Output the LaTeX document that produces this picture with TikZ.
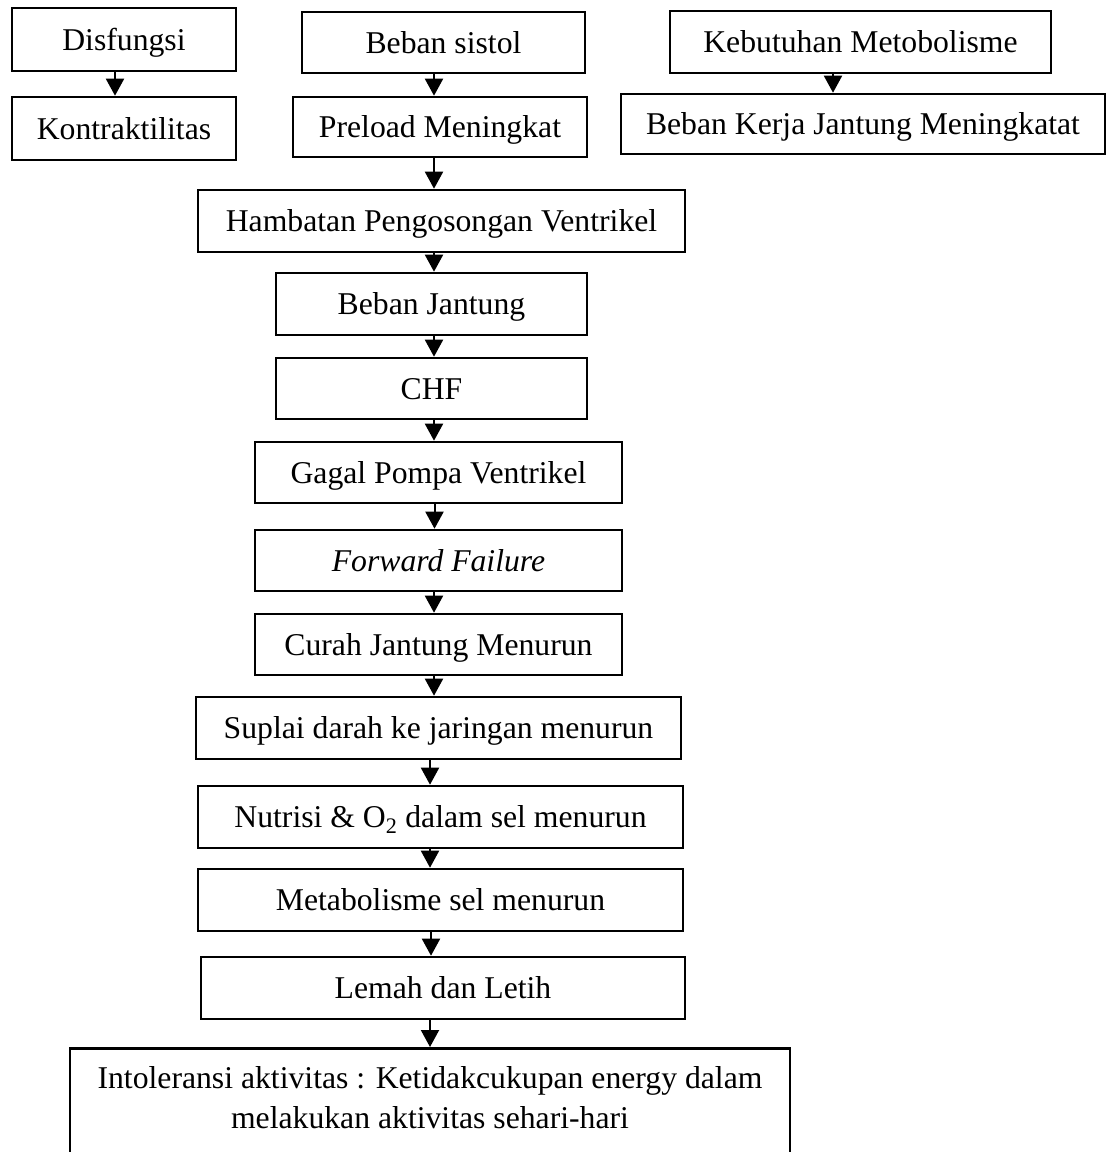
\documentclass[tikz,border=0pt]{standalone}
\usepackage{fontspec}
\setmainfont{Liberation Serif}
\usetikzlibrary{arrows.meta}
\newcommand\flowarrow[3]{%
  \coordinate (#1-out) at ([xshift=#3pt]#1.south);
  \draw[arr] (#1-out) -- (#1-out |- #2.north);}
\begin{document}
\begin{tikzpicture}[x=1pt,y=-1pt,
  box/.style={draw, line width=2.6pt, inner sep=0pt, text height=21pt, text depth=0pt,
    font=\fontsize{31.7}{40}\selectfont},
  frame/.style={draw, line width=2.6pt, inner sep=0pt},
  txt/.style={inner sep=0pt, align=center, font=\fontsize{31.7}{40}\selectfont},
  arr/.style={line width=2pt, -{Triangle[width=18pt,length=17pt]}}]
\useasboundingbox (0,0) rectangle (1106,1152);
\clip (0,0) rectangle (1106,1152);

% top row
\node[box, minimum width=224, minimum height=63] (dis) at (124,39.5) {Disfungsi};
\node[box, minimum width=224, minimum height=63] (kon) at (124,128.5) {Kontraktilitas};
\node[box, minimum width=283, minimum height=61] (bs) at (443.5,42.5) {Beban sistol};
\node[box, minimum width=294, minimum height=60] (pre) at (440,127) {Preload Meningkat};
\node[box, minimum width=381, minimum height=62] (keb) at (860.5,42) {Kebutuhan Metobolisme};
\node[box, minimum width=484, minimum height=60] (bkj) at (863,124) {Beban Kerja Jantung Meningkatat};

% main column
\node[box, minimum width=487, minimum height=62] (ham) at (441.5,221) {Hambatan Pengosongan Ventrikel};
\node[box, minimum width=311, minimum height=62] (bj) at (431.5,304) {Beban Jantung};
\node[box, minimum width=311, minimum height=61] (chf) at (431.5,388.5) {CHF};
\node[box, minimum width=367, minimum height=61] (gpv) at (438.5,472.5) {Gagal Pompa Ventrikel};
\node[box, minimum width=367, minimum height=61] (ff) at (438.5,560.5) {\itshape Forward Failure};
\node[box, minimum width=367, minimum height=61] (cjm) at (438.5,644.5) {Curah Jantung Menurun};
\node[box, minimum width=485, minimum height=62] (sup) at (438.5,728) {Suplai darah ke jaringan menurun};
\node[box, minimum width=485, minimum height=62] (nut) at (440.5,817) {Nutrisi \& O\textsubscript{2} dalam sel menurun};
\node[box, minimum width=485, minimum height=62] (met) at (440.5,900) {Metabolisme sel menurun};
\node[box, minimum width=484, minimum height=62] (lem) at (443,988) {Lemah dan Letih};
\node[frame, minimum width=720, minimum height=150, anchor=north] (int) at (430,1047) {};
\node[txt] (intt) at (430,1098) {Intoleransi aktivitas : Ketidakcukupan energy dalam\\melakukan aktivitas sehari-hari};

% arrows
\flowarrow{dis}{kon}{-9}
\flowarrow{bs}{pre}{-9.5}
\flowarrow{keb}{bkj}{-27.5}
\flowarrow{pre}{ham}{-6}
\flowarrow{ham}{bj}{-7.5}
\flowarrow{bj}{chf}{2.5}
\flowarrow{chf}{gpv}{2.5}
\flowarrow{gpv}{ff}{-4}
\flowarrow{ff}{cjm}{-4.5}
\flowarrow{cjm}{sup}{-4.5}
\flowarrow{sup}{nut}{-8.5}
\flowarrow{nut}{met}{-10.5}
\flowarrow{met}{lem}{-9.5}
\flowarrow{lem}{int}{-13}
\end{tikzpicture}
\end{document}
